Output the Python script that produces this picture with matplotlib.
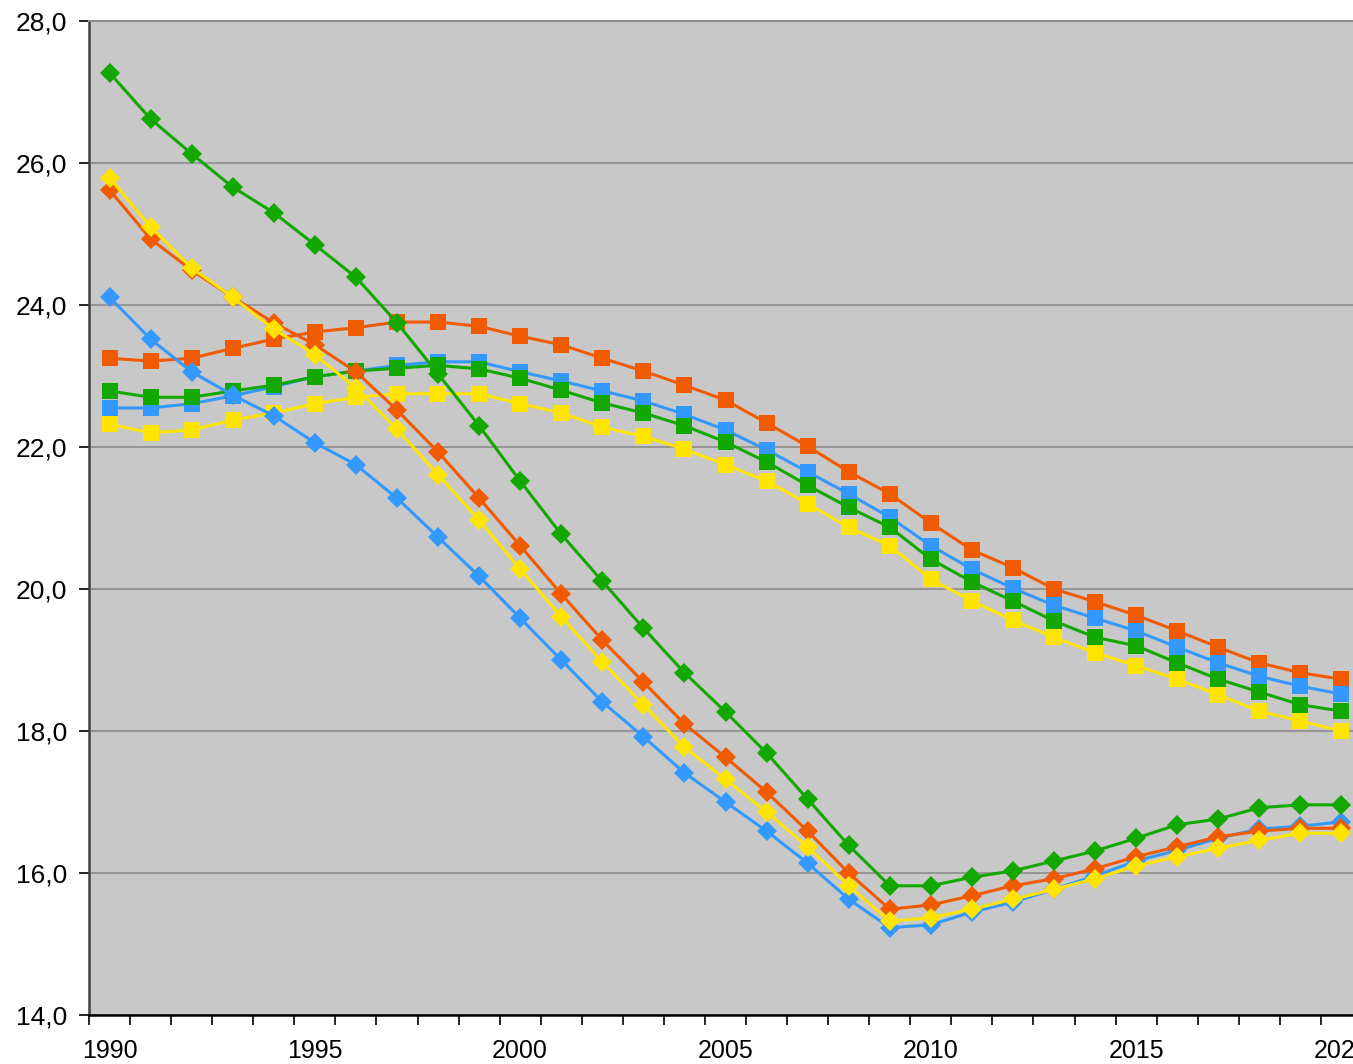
import matplotlib
matplotlib.use("Agg")
import matplotlib.pyplot as plt
from matplotlib.ticker import FuncFormatter, MultipleLocator, FixedLocator

years = list(range(1990, 2021))

green_diamond = [27.27, 26.62, 26.13, 25.66, 25.30, 24.85, 24.39, 23.75, 23.03, 22.30,
                 21.52, 20.77, 20.11, 19.45, 18.82, 18.27, 17.69, 17.04, 16.39, 15.82,
                 15.82, 15.94, 16.03, 16.17, 16.31, 16.49, 16.68, 16.76, 16.92, 16.96, 16.96]
orange_diamond = [25.62, 24.93, 24.49, 24.11, 23.75, 23.44, 23.06, 22.52, 21.93, 21.28,
                  20.61, 19.93, 19.28, 18.69, 18.10, 17.63, 17.14, 16.59, 16.00, 15.49,
                  15.55, 15.68, 15.82, 15.92, 16.06, 16.23, 16.37, 16.51, 16.59, 16.63, 16.63]
yellow_diamond = [25.79, 25.10, 24.52, 24.11, 23.66, 23.30, 22.83, 22.25, 21.61, 20.97,
                  20.28, 19.61, 18.97, 18.37, 17.77, 17.32, 16.86, 16.37, 15.82, 15.32,
                  15.37, 15.49, 15.63, 15.77, 15.92, 16.10, 16.23, 16.35, 16.46, 16.56, 16.56]
blue_diamond = [24.11, 23.52, 23.06, 22.73, 22.44, 22.06, 21.75, 21.28, 20.73, 20.18,
                19.59, 19.00, 18.41, 17.92, 17.41, 17.00, 16.59, 16.14, 15.63, 15.23,
                15.27, 15.45, 15.59, 15.77, 15.96, 16.17, 16.32, 16.49, 16.62, 16.66, 16.72]

orange_square = [23.25, 23.21, 23.25, 23.39, 23.52, 23.62, 23.68, 23.76, 23.76, 23.70,
                 23.56, 23.44, 23.25, 23.07, 22.87, 22.66, 22.34, 22.01, 21.65, 21.34,
                 20.93, 20.55, 20.30, 20.00, 19.82, 19.63, 19.41, 19.18, 18.96, 18.82, 18.73]
blue_square = [22.55, 22.55, 22.61, 22.72, 22.85, 22.99, 23.07, 23.15, 23.20, 23.20,
               23.06, 22.93, 22.79, 22.65, 22.46, 22.24, 21.96, 21.65, 21.34, 21.01,
               20.61, 20.28, 20.01, 19.77, 19.59, 19.41, 19.18, 18.96, 18.77, 18.63, 18.52]
green_square = [22.79, 22.70, 22.70, 22.79, 22.87, 22.99, 23.07, 23.11, 23.15, 23.10,
                22.97, 22.80, 22.62, 22.48, 22.30, 22.07, 21.79, 21.46, 21.15, 20.87,
                20.42, 20.10, 19.83, 19.55, 19.32, 19.20, 18.96, 18.73, 18.55, 18.37, 18.28]
yellow_square = [22.32, 22.20, 22.24, 22.38, 22.48, 22.61, 22.70, 22.75, 22.75, 22.75,
                 22.61, 22.48, 22.28, 22.15, 21.97, 21.75, 21.52, 21.20, 20.87, 20.61,
                 20.14, 19.83, 19.56, 19.32, 19.10, 18.92, 18.73, 18.51, 18.28, 18.14, 18.00]

GREEN = "#13A800"
ORANGE = "#F05A00"
YELLOW = "#FFE400"
BLUE = "#3399FF"

plt.rcParams['font.family'] = ['Liberation Sans', 'DejaVu Sans']

fig = plt.figure(figsize=(13.53, 10.64), dpi=100)
ax = fig.add_axes([89/1353, 49/1064, (1362-89)/1353, (1015-21)/1064])
ax.set_facecolor("#C8C8C8")

square_series = [(orange_square, ORANGE), (blue_square, BLUE), (green_square, GREEN), (yellow_square, YELLOW)]
diamond_series = [(blue_diamond, BLUE), (orange_diamond, ORANGE), (yellow_diamond, YELLOW), (green_diamond, GREEN)]

z = 3
for vals, c in square_series:
    ax.plot(years, vals, color=c, lw=2.2, marker="s", markersize=11, markeredgewidth=0, zorder=z)
    z += 1
for vals, c in diamond_series:
    ax.plot(years, vals, color=c, lw=2.2, marker="D", markersize=10, markeredgewidth=0, zorder=z)
    z += 1

ax.set_xlim(1989.5, 2020.5)
ax.set_ylim(14, 28)
ax.yaxis.set_major_locator(MultipleLocator(2))
ax.yaxis.set_major_formatter(FuncFormatter(lambda v, p: f"{v:.1f}".replace(".", ",")))
ax.grid(axis="y", color="#8C8C8C", lw=1.2, zorder=1)

ax.xaxis.set_major_locator(FixedLocator([1990, 1995, 2000, 2005, 2010, 2015, 2020]))
ax.xaxis.set_minor_locator(FixedLocator([y + 0.5 for y in range(1989, 2021)]))
ax.tick_params(axis="x", which="major", length=0, pad=17, labelsize=18)
ax.tick_params(axis="x", which="minor", length=7, width=1.2, color="black")
ax.tick_params(axis="y", which="major", length=7, width=1.2, labelsize=19, pad=9)

ax.spines["top"].set_color("#8C8C8C")
ax.spines["top"].set_linewidth(1.5)
ax.spines["right"].set_visible(False)
ax.spines["left"].set_color("#404040")
ax.spines["left"].set_linewidth(1.8)
ax.spines["bottom"].set_color("black")
ax.spines["bottom"].set_linewidth(1.8)

fig.savefig("out.png", dpi=100)
